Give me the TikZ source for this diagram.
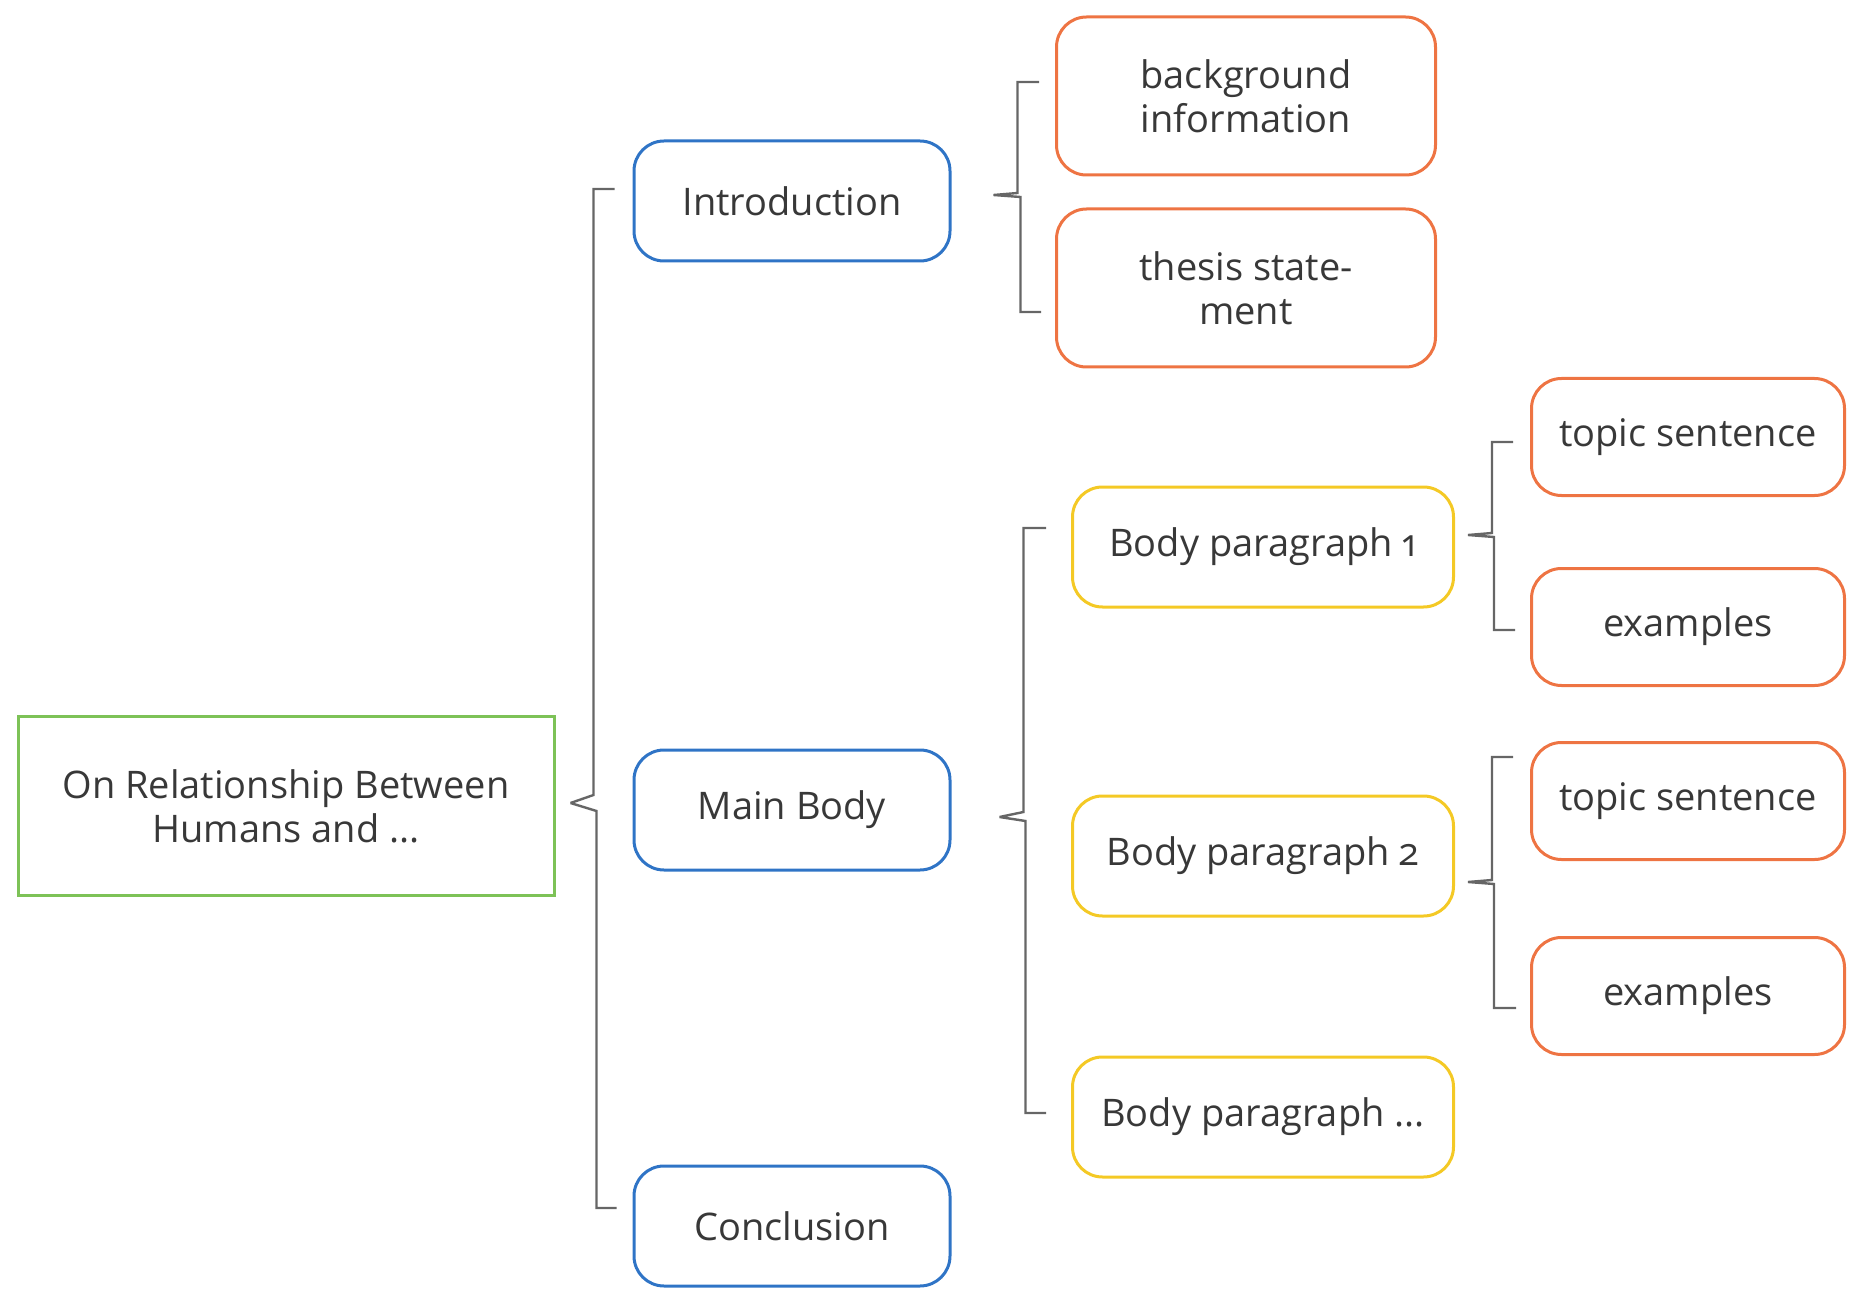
\documentclass[tikz,border=0pt]{standalone}
\usepackage{fontspec}
\setmainfont{Open Sans}[Numbers=OldStyle]
\usetikzlibrary{calc}

\definecolor{rootgreen}{HTML}{7DC257}
\definecolor{partblue}{HTML}{2F74C6}
\definecolor{leaforange}{HTML}{EE7443}
\definecolor{parayellow}{HTML}{F4C925}
\definecolor{inkgray}{HTML}{383838}
\definecolor{bracegray}{HTML}{666666}

\tikzset{
  box/.style={line width=1.5pt,align=center,text=inkgray,inner sep=0pt,
    font=\fontsize{19}{22}\selectfont},
  rootbox/.style={box,draw=rootgreen,minimum width=268pt,minimum height=89.5pt},
  partbox/.style={box,draw=partblue,rounded corners=15pt,minimum width=158pt,minimum height=60pt},
  parabox/.style={box,draw=parayellow,rounded corners=15pt,minimum width=190.5pt,minimum height=60pt},
  leafbox/.style={box,draw=leaforange,rounded corners=15pt,minimum width=189.5pt,minimum height=79pt},
  smallleaf/.style={box,draw=leaforange,rounded corners=15pt,minimum width=156.5pt,minimum height=58.5pt},
  brace/.style={draw=bracegray,line width=1.2pt}
}

\begin{document}
\begin{tikzpicture}[x=0.5pt,y=-0.5pt]
\useasboundingbox (0,0) rectangle (1849,1289);

\node(root)   at (286,806)   [rootbox]   {On Relationship Between\\Humans and ...};
\node(intro)  at (792,201)   [partbox]   {Introduction};
\node(main)   at (792,810)   [partbox]   {Main Body};
\node(concl)  at (792,1226)  [partbox]   {Conclusion};
\node(bg)     at (1246,96)   [leafbox]   {background\\information};
\node(thesis) at (1246,288)  [leafbox]   {thesis state-\\ment};
\node(para1)  at (1263,547)  [parabox]   {Body paragraph 1};
\node(para2)  at (1263,856)  [parabox]   {Body paragraph 2};
\node(para3)  at (1263,1117) [parabox]   {Body paragraph ...};
\node(topic1) at (1688,437)  [smallleaf] {topic sentence};
\node(ex1)    at (1688,627)  [smallleaf] {examples};
\node(topic2) at (1688,801)  [smallleaf] {topic sentence};
\node(ex2)    at (1688,996)  [smallleaf] {examples};

% bracket tips
\coordinate(rootTip)  at ($(root.east)+(15,-3)$);
\coordinate(introTip) at ($(intro.east)+(42,-6)$);
\coordinate(mainTip)  at ($(main.east)+(48,7)$);
\coordinate(p1Tip)    at ($(para1.east)+(13,-12)$);
\coordinate(p2Tip)    at ($(para2.east)+(13,26)$);

\path [brace]
  (rootTip)  -- ++(23,-8)  |- ($(intro.west)+(-18,-12)$)
  (rootTip)  -- ++(26,8)   |- ($(concl.west)+(-16,-18)$)
  (introTip) -- ++(24,-2)  |- ($(bg.west)+(-16,-14)$)
  (introTip) -- ++(27,2)   |- ($(thesis.west)+(-14,24)$)
  (mainTip)  -- ++(24,-5)  |- ($(para1.west)+(-25,-19)$)
  (mainTip)  -- ++(26,4)   |- ($(para3.west)+(-25,-4)$)
  (p1Tip)    -- ++(24,-2)  |- ($(topic1.west)+(-17,5)$)
  (p1Tip)    -- ++(26,2)   |- ($(ex1.west)+(-15,3)$)
  (p2Tip)    -- ++(24,-2)  |- ($(topic2.west)+(-17,-44)$)
  (p2Tip)    -- ++(26,2)   |- ($(ex2.west)+(-14,12)$);

\end{tikzpicture}
\end{document}
